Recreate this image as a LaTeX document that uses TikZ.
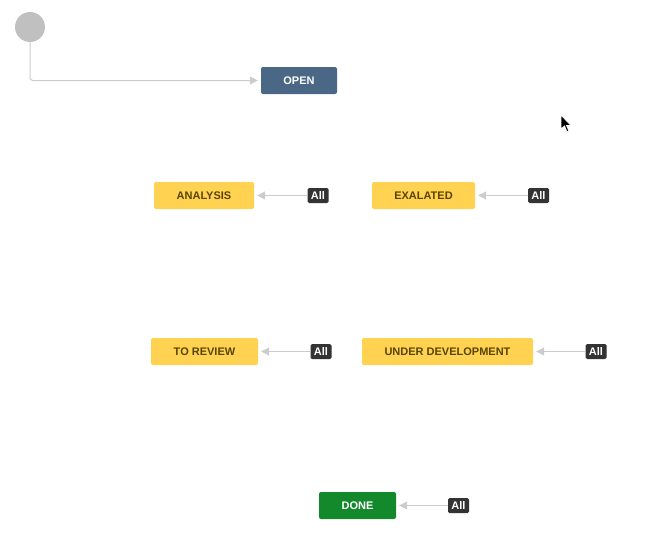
\documentclass[tikz,border=0pt]{standalone}
\usepackage{fontspec}
\setmainfont{Liberation Sans}
\usetikzlibrary{arrows.meta}
\definecolor{jiragray}{HTML}{C0C0C0}
\definecolor{linegray}{HTML}{CCCCCC}
\definecolor{openblue}{HTML}{4A6785}
\definecolor{todoyellow}{HTML}{FFD351}
\definecolor{todotext}{HTML}{594300}
\definecolor{donegreen}{HTML}{14892C}
\definecolor{badgegray}{HTML}{333333}
\tikzset{
  status/.style={rounded corners=2pt, minimum height=27pt, inner sep=0pt,
    font=\fontsize{11}{13}\selectfont\bfseries},
  yellowbox/.style={status, fill=todoyellow, text=todotext},
  allbadge/.style={rounded corners=1.5pt, fill=badgegray, text=white, inner sep=0pt,
    minimum width=21pt, minimum height=15pt, font=\fontsize{11}{13}\selectfont\bfseries},
  trans/.style={draw=linegray, line width=1pt, -{Triangle[length=8pt,width=8pt,fill=linegray]}, shorten >=3pt}
}
\begin{document}
\begin{tikzpicture}[x=1pt,y=-1pt]
        \useasboundingbox (0,0) rectangle (659,541);

        % Start
        \node[circle, fill=jiragray, minimum size=30pt, inner sep=0pt] (start) at (30,27) {};
        
        % Statuses
        \node[status, fill=openblue, text=white, minimum width=76pt] (open) at (299,80.5) {OPEN};
        \node[yellowbox, minimum width=100pt] (analysis) at (204,195.5) {ANALYSIS};
        \node[yellowbox, minimum width=103pt] (exalated) at (423.5,195.5) {EXALATED};
        \node[yellowbox, minimum width=107pt] (toreview) at (204.5,351.5) {TO REVIEW};
        \node[yellowbox, minimum width=171pt] (underdev) at (447.5,351.5) {UNDER DEVELOPMENT};
        \node[status, fill=donegreen, text=white, minimum width=77pt] (done) at (357.5,505.5) {DONE};
        
        % Global transitions
        \node[allbadge] (allA) at (318,195.5) {All};
        \node[allbadge] (allE) at (538.5,195.5) {All};
        \node[allbadge] (allT) at (321,351.5) {All};
        \node[allbadge] (allU) at (596,351.5) {All};
        \node[allbadge] (allD) at (458.5,505.5) {All};
        
        % Connectors
        \draw[trans, rounded corners=3pt] (start.south) |- (open.west);
        \draw[trans] (allA) -- (analysis);
        \draw[trans] (allE) -- (exalated);
        \draw[trans] (allT) -- (toreview);
        \draw[trans] (allU) -- (underdev);
        \draw[trans] (allD) -- (done);
        
        % Cursor
        \draw[fill=black, draw=white, line width=0.8pt] (561,115) -- (561,129) -- (564.5,126) -- (567,132) -- (569,131) -- (566.5,125.5) -- (571,125.5) -- cycle;
    \end{tikzpicture}
\end{document}
